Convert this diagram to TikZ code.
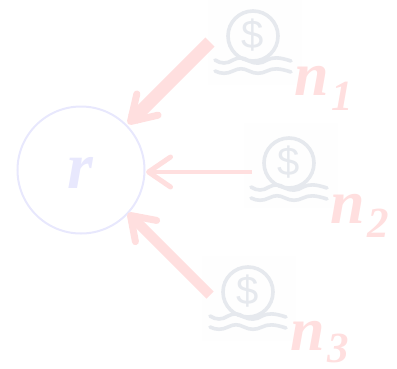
\documentclass[tikz,border=0pt]{standalone}
\usepackage{fontspec}
\setmainfont{Liberation Serif}
\setsansfont{Liberation Sans}
\usetikzlibrary{arrows.meta}
\definecolor{rcol}{HTML}{E8E8FD}
\definecolor{ncol}{HTML}{FFDFDF}
\definecolor{icol}{HTML}{E6E9EE}
\definecolor{bcol}{HTML}{FEFEFE}
\tikzset{
  x=1pt,y=-1pt,
  iconbox/.style={fill=bcol,draw=none,minimum width=94pt,minimum height=85pt,inner sep=0pt},
  lab/.style={text=ncol,font=\fontsize{62pt}{62pt}\selectfont\bfseries\itshape,inner sep=0pt,anchor=base west},
  sub/.style={text=ncol,font=\fontsize{43pt}{43pt}\selectfont\bfseries\itshape,inner sep=0pt,anchor=base west},
  conn/.style={draw=ncol,line cap=butt},
  moneyicon/.pic={
    \draw[icol,line width=3.6pt] (0,0) circle[radius=25];
    \node[text=icol,inner sep=0pt,font=\fontsize{40pt}{40pt}\selectfont\sffamily] at (0,-1) {\$};
    \draw[icol,line width=3.6pt,line cap=round]
      (-38,24) .. controls (-32,28) and (-26,28) .. (-20,24)
      .. controls (-14,21) and (-10,21) .. (-4,25)
      .. controls (2,28) and (8,28) .. (14,24)
      .. controls (20,21) and (26,21) .. (38,25);
    \draw[icol,line width=3.6pt,line cap=round]
      (-38,35) .. controls (-32,38) and (-26,38) .. (-20,35)
      .. controls (-14,32) and (-10,32) .. (-4,35)
      .. controls (2,38) and (8,38) .. (14,35)
      .. controls (20,32) and (26,32) .. (38,36);
  }
}
\begin{document}
\begin{tikzpicture}
\useasboundingbox (0,0) rectangle (397,368);
% faint backgrounds
\node[iconbox] (b1) at (255,42.5) {};
\node[iconbox] (b2) at (291,165) {};
\node[iconbox] (b3) at (249,298) {};
% icons
\pic at (253,36) {moneyicon};
\pic at (289,163) {moneyicon};
\pic at (248,292) {moneyicon};
% root
\node[circle,draw=rcol,line width=2pt,minimum size=127pt,inner sep=0pt] (r) at (81,170) {};
\node[text=rcol,inner sep=0pt,font=\fontsize{66pt}{66pt}\selectfont\bfseries\itshape] (rlab) at (80,173) {r};
% labels
\node[lab] (n1) at (294,95) {n};
\node[sub] (s1) at (331,110) {1};
\node[lab] (n2) at (330,223) {n};
\node[sub] (s2) at (367,237) {2};
\node[lab] (n3) at (290,350) {n};
\node[sub] (s3) at (327,362) {3};
% connector ends
\coordinate (t1) at (210,42);
\coordinate (h1) at (128,124);
\coordinate (t2) at (252,172);
\coordinate (h2) at (146,172);
\coordinate (t3) at (210,295);
\coordinate (h3) at (128,213);
\draw[conn,line width=13pt,-{Straight Barb[length=24pt,width=30pt,line width=7pt,round]}] (t1) -- (h1);
\draw[conn,line width=4.5pt,-{Straight Barb[length=22pt,width=30pt,line width=5pt,round]}] (t2) -- (h2);
\draw[conn,line width=10pt,-{Straight Barb[length=22pt,width=30pt,line width=7pt,round]}] (t3) -- (h3);
\end{tikzpicture}
\end{document}
